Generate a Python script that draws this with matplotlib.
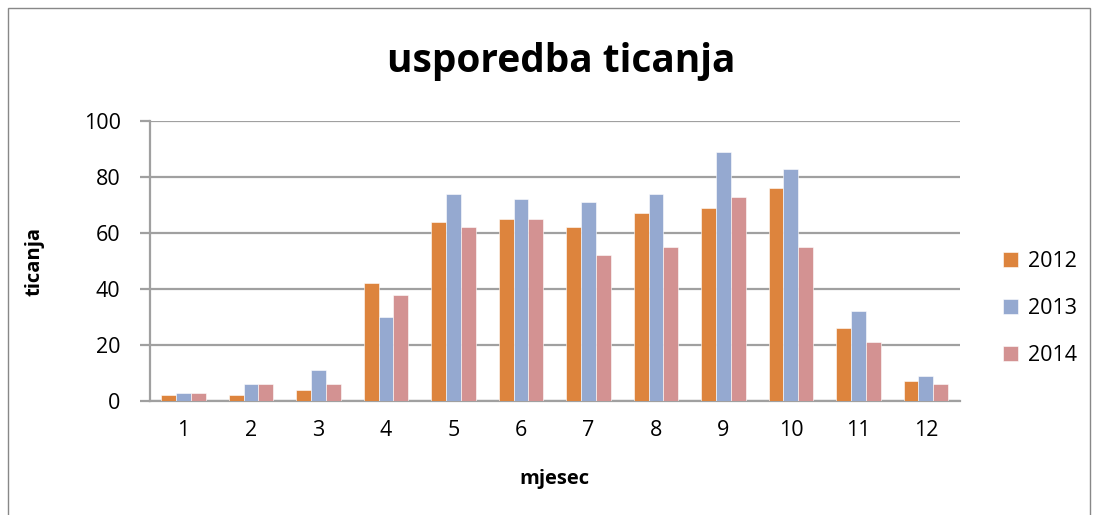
import numpy as np
import matplotlib.pyplot as plt
from matplotlib.patches import Rectangle

months = list(range(1, 13))
series_names = ["2012", "2013", "2014"]
v2012 = [2, 2, 4, 42, 64, 65, 62, 67, 69, 76, 26, 7]
v2013 = [3, 6, 11, 30, 74, 72, 71, 74, 89, 83, 32, 9]
v2014 = [3, 6, 6, 38, 62, 65, 52, 55, 73, 55, 21, 6]
colors = ["#DD843D", "#95A9D0", "#D39292"]

plt.rcParams['font.family'] = ['Open Sans', 'DejaVu Sans']

fig = plt.figure(figsize=(10.93, 5.15), dpi=100)
ax = fig.add_axes([0.137, 0.2214, 0.741, 0.5436])

x = np.arange(len(months))
w = 0.22
for i, (vals, name) in enumerate(zip([v2012, v2013, v2014], series_names)):
    ax.bar(x + (i - 1) * w, vals, width=w, color=colors[i], label=name,
           edgecolor='white', linewidth=0.4, zorder=3)

ax.set_xlim(-0.5, len(months) - 0.5)
ax.set_ylim(0, 100)
ax.set_yticks(range(0, 101, 20))
ax.set_xticks(x)
ax.set_xticklabels([str(m) for m in months])
ax.grid(axis='y', color='#A0A0A0', linewidth=1.6, zorder=0)
for s in ['top', 'right']:
    ax.spines[s].set_visible(False)
for s in ['left', 'bottom']:
    ax.spines[s].set_color('#A0A0A0')
    ax.spines[s].set_linewidth(1.6)
ax.tick_params(axis='y', length=7, color='#A0A0A0', width=1.6, labelsize=15.5, pad=14)
ax.tick_params(axis='x', length=0, labelsize=15.5, pad=14)

ax.set_xlabel("mjesec", fontsize=14.5, fontweight='bold', labelpad=20)
ax.set_ylabel("ticanja", fontsize=14.5, fontweight='bold', labelpad=28)
fig.text(0.513, 0.88, "usporedba ticanja", ha='center', va='center',
         fontsize=28, fontweight='bold')

ax.legend(loc='center left', bbox_to_anchor=(1.03, 0.33), frameon=False,
          fontsize=15.5, handlelength=0.7, handleheight=0.7, labelspacing=1.2,
          handletextpad=0.45)

fig.patches.append(Rectangle((0.007, -0.01), 0.99, 0.995, transform=fig.transFigure,
                             fill=False, edgecolor='#888888', linewidth=1))

fig.savefig("out.png", dpi=100)
